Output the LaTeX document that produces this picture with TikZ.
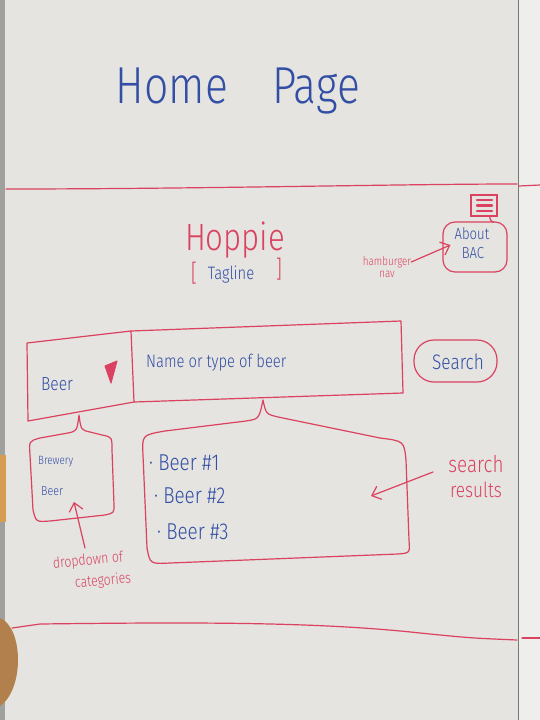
\documentclass[tikz,border=0pt]{standalone}
\usepackage{fontspec}
\setmainfont{Fira Sans Light}[FakeStretch=0.82]
\usetikzlibrary{arrows.meta}
\definecolor{board}{RGB}{229,228,224}
\definecolor{boardR}{RGB}{238,238,236}
\definecolor{frame}{RGB}{120,120,118}
\definecolor{marker}{RGB}{218,66,96}
\definecolor{ink}{RGB}{50,78,165}
\definecolor{wood}{RGB}{178,128,76}
\definecolor{tape}{RGB}{214,156,80}

\begin{document}
\begin{tikzpicture}[x=1pt,y=-1pt,
  redline/.style={draw=marker,line width=1.2pt,line cap=round,line join=round},
  bluetxt/.style={text=ink,inner sep=0pt},
  redtxt/.style={text=marker,inner sep=0pt},
  fs/.style={font=\fontsize{#1}{#1}\selectfont},
  barb/.style={redline,-{Straight Barb[length=8pt,width=14pt,line width=1.2pt]}}
]
% whiteboard surface and its surroundings
\fill[board] (0,0) rectangle (540,720);
\useasboundingbox (0,0) rectangle (540,720);
\fill[boardR] (519,0) rectangle (540,720);
\fill[frame!70] (0,0) rectangle (5,720);
\draw[frame,line width=1pt] (518,0) -- (518,720);
\fill[tape] (0,455) rectangle (6,522);
\fill[wood] (0,618) .. controls (24,628) and (24,690) .. (0,706) -- cycle;

% page title and header rules
\node[bluetxt,fs=52,anchor=base] (title) at (238,103) {Home\hspace{44pt}Page};
\draw[redline] (6,189) .. controls (200,189) and (400,184) .. (517,184);
\draw[redline] (519,186) -- (540,185);

% logo and tagline
\node[redtxt,fs=38,anchor=base] (logo) at (235,250) {Hoppie};
\node[bluetxt,fs=18,anchor=base] (tagline) at (231,279) {Tagline};
\node[redtxt,fs=24,anchor=base] (lbr) at (194,281) {[};
\node[redtxt,fs=24,anchor=base] (rbr) at (279,277) {]};

% hamburger menu opening the About panel
\node[draw=marker,line width=1.2pt,minimum width=26pt,minimum height=21pt,inner sep=0pt] (burger) at (484,205.5) {};
\foreach \yy in {200,205.5,211}
  \draw[marker,line width=2.4pt,line cap=round] (477,\yy) -- (492,\yy);
\node[draw=marker,line width=1.2pt,rounded corners=12pt,minimum width=64pt,minimum height=50pt,inner sep=0pt] (about) at (475,247) {};
\node[bluetxt,fs=16] (abouttxt) at (472,234) {About};
\node[bluetxt,fs=16] (bactxt) at (473,253) {BAC};
\draw[redline] ([xshift=-8pt]burger.south east) .. controls +(1,4) .. ([xshift=-14pt,yshift=-1pt]about.north east);
\node[redtxt,fs=12] (hamb) at (387,262) {hamburger};
\node[redtxt,fs=12] (nav) at (387,274) {nav};
\draw[barb] (hamb.east) -- ([xshift=8pt,yshift=2pt]about.west);

% search bar: category selector and free text field
\coordinate (c1) at (27,343);
\coordinate (c2) at (131,331);
\coordinate (c3) at (401,321);
\coordinate (c4) at (403,393);
\coordinate (c5) at (134,402);
\coordinate (c6) at (28,421);
\draw[redline] (c1) -- (c2) -- (c3) -- (c4) -- (c5) -- (c6) -- cycle;
\draw[redline] (c2) -- (c5);
\node[bluetxt,fs=19] (catfield) at (57,384) {Beer};
\filldraw[marker,line width=1pt,line join=round] (105,366) -- (117,361) -- (111,383) -- cycle;
\node[bluetxt,fs=18,anchor=west] (query) at (146,363) {Name or type of beer};
\node[draw=marker,line width=1.2pt,rounded corners=20pt,minimum width=83pt,minimum height=42pt,inner sep=0pt] (searchbtn) at (455.5,361) {};
\node[bluetxt,fs=21] (searchtxt) at (458,362) {Search};

% dropdown list hanging under the category selector
\draw[redline] (30,455) .. controls (29,441) .. (40,438) -- (68,433)
  .. controls (77,431) .. (79,415) .. controls (81,430) .. (90,432) -- (102,435)
  .. controls (112,437) .. (112,450) -- (114,505) .. controls (114,513) .. (105,515)
  -- (50,521) .. controls (36,522) .. (33,510) -- cycle;
\node[bluetxt,fs=12,anchor=west] (brewery) at (38,462) {Brewery};
\node[bluetxt,fs=13,anchor=west] (beeropt) at (41,491) {Beer};
\node[redtxt,fs=15,rotate=5] (dd1) at (88,561) {dropdown of};
\node[redtxt,fs=15,rotate=5] (dd2) at (103,581) {categories};
\coordinate (ddtail) at (85,548);
\coordinate (ddtip) at (74,502);
\draw[barb] (ddtail) -- (ddtip);

% results panel hanging under the text field
\draw[redline] (143,455) .. controls (142,435) .. (165,431) -- (246,421)
  .. controls (259,419) .. (263,400) .. controls (266,414) .. (278,417)
  -- (380,438) .. controls (404,441) .. (406,460) -- (409,540)
  .. controls (410,553) .. (398,554) -- (170,563) .. controls (150,564) .. (147,548) -- cycle;
\node[bluetxt,fs=23,anchor=west] (r1) at (149,463) {· Beer \#1};
\node[bluetxt,fs=23,anchor=west] (r2) at (154,496) {· Beer \#2};
\node[bluetxt,fs=23,anchor=west] (r3) at (157,532) {· Beer \#3};
\node[redtxt,fs=23] (sr1) at (476,464) {search};
\node[redtxt,fs=21] (sr2) at (476,490) {results};
\coordinate (srtail) at (433,472);
\coordinate (srtip) at (371,496);
\draw[barb] (srtail) -- (srtip);

% footer rule
\draw[redline] (12,628) -- (40,624) .. controls (200,622) and (320,622) .. (420,633)
  .. controls (470,638) .. (517,640);
\draw[redline] (522,638) -- (540,638);
\end{tikzpicture}
\end{document}
